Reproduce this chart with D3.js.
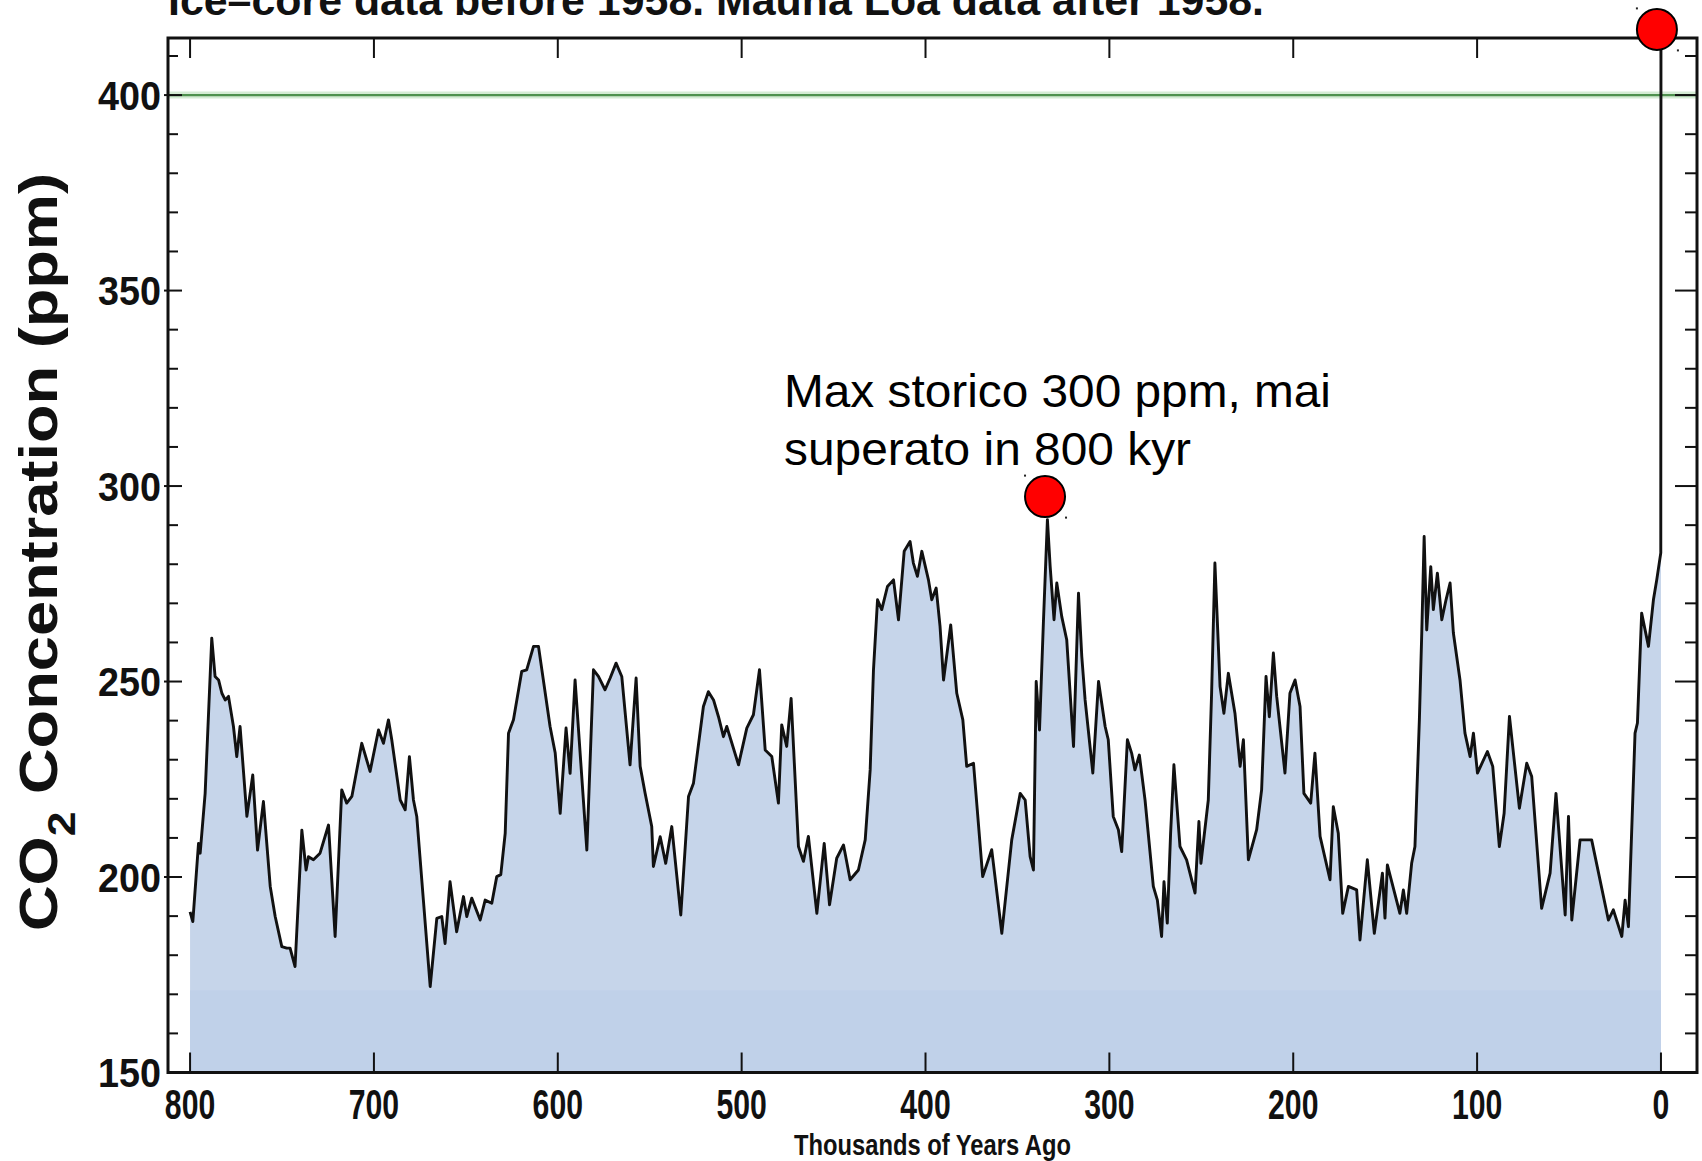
<!DOCTYPE html>
<html>
<head>
<meta charset="utf-8">
<script src="https://cdn.jsdelivr.net/npm/d3@7"></script>
<style>
  html, body { margin: 0; padding: 0; background: #ffffff; }
  svg { display: block; }
</style>
</head>
<body>
<script>
// ---------------- DATA ----------------
const titleText = "Ice–core data before 1958. Mauna Loa data after 1958.";
const xTitle = "Thousands of Years Ago";
const yTitleMain = "CO";
const yTitleSub = "2";
const yTitleRest = " Concentration (ppm)";
const annotationLines = ["Max storico 300 ppm, mai", "superato in 800 kyr"];

const xTicks = [800, 700, 600, 500, 400, 300, 200, 100, 0];
const yTickLabels = [150, 200, 250, 300, 350, 400];
const refLevel = [400];

const markerKyr = [335, 2.2];
const markerPpm = [297.3, 416.8];

// thousands of years ago
const kyr = [
800.0,798.5,795.4,794.5,791.8,788.2,786.4,784.5,782.7,780.9,779.1,776.4,774.6,772.8,769.1,765.9,763.3,760.1,756.4,753.7,
750.1,747.4,745.6,742.9,739.2,736.9,735.6,732.9,729.3,724.7,721.1,717.5,714.8,712.0,706.6,702.1,697.5,694.8,692.1,690.3,
685.7,683.0,680.7,678.5,676.7,673.1,669.4,665.8,663.1,661.3,658.6,655.0,651.3,649.5,646.8,642.2,639.5,635.9,633.2,631.0,
628.6,626.8,624.1,619.6,616.9,613.2,610.5,604.2,601.4,598.7,595.5,593.3,590.6,584.2,580.6,577.9,574.3,571.5,568.3,565.2,
560.7,557.4,555.2,552.5,548.9,548.0,544.3,541.3,538.0,533.1,528.9,526.2,520.8,518.1,515.3,512.6,509.9,508.1,501.7,497.2,
493.6,490.3,487.2,483.6,480.0,478.2,475.5,473.1,469.1,466.4,463.7,459.1,455.1,452.2,448.3,444.6,441.0,436.5,432.8,430.1,
428.3,426.1,423.8,420.7,417.4,414.7,411.6,408.4,406.6,404.4,402.0,398.4,396.6,394.2,392.1,390.2,386.3,383.0,379.7,377.6,
373.9,368.9,364.0,358.5,353.1,348.5,345.8,343.1,341.3,339.8,338.0,335.9,333.7,332.2,330.1,328.6,325.9,323.2,319.5,316.8,
315.0,313.2,309.0,305.9,302.3,300.6,297.9,295.1,293.3,290.2,287.9,286.1,283.7,280.6,276.1,273.9,271.6,270.3,268.5,266.7,
264.9,261.6,258.0,253.4,251.3,250.2,246.2,244.4,242.6,239.8,237.7,235.3,231.7,228.9,227.1,224.4,219.9,217.2,214.8,213.0,
210.8,209.0,204.5,201.8,199.0,196.3,194.2,190.5,188.2,185.4,180.0,178.2,175.5,173.1,170.0,165.5,163.7,159.7,155.9,151.5,
150.1,148.8,142.0,140.1,138.3,135.6,133.8,131.4,130.1,128.8,127.4,125.2,123.8,121.6,119.2,116.9,114.7,112.9,109.3,106.6,
103.8,102.0,99.8,94.4,91.5,87.9,85.3,82.4,77.0,73.0,70.3,64.9,60.3,57.1,52.1,50.3,48.5,44.0,37.7,28.6,
25.9,21.3,19.5,17.7,14.1,12.8,10.5,6.8,4.1,2.3,0.1,0.0
];
// CO2 concentration (ppm)
const co2 = [
191.1,188.6,208.6,206.1,221.4,261.1,251.3,250.4,247.0,245.3,246.2,238.5,230.8,238.5,215.5,226.1,206.9,219.3,197.6,189.9,
182.2,181.8,181.8,177.1,212.0,201.8,205.2,204.4,206.1,213.3,184.8,222.3,218.9,220.6,234.2,227.0,237.6,234.2,240.2,235.1,
219.7,217.2,230.8,219.7,215.5,194.1,172.0,189.4,189.9,183.0,198.8,186.0,195.0,189.9,194.6,189.0,194.1,193.3,200.1,200.6,
211.2,236.8,240.2,252.6,253.0,259.0,259.0,238.5,231.7,216.3,238.1,226.5,250.4,206.9,253.0,251.3,247.9,250.9,254.7,251.3,
228.7,250.9,228.3,221.4,212.9,202.7,210.3,203.5,212.9,190.3,220.6,224.0,243.6,247.4,245.3,241.0,235.9,238.5,228.7,238.1,
241.5,253.0,232.5,230.8,218.9,238.9,233.4,245.7,207.8,204.0,210.4,190.7,208.6,192.9,204.8,208.2,199.3,201.8,209.5,227.4,
253.0,270.9,268.4,274.3,276.0,265.8,283.3,285.8,280.3,276.9,283.3,276.0,270.9,273.9,264.1,250.4,264.5,247.0,240.2,228.3,
229.1,200.1,207.0,185.6,209.5,221.4,219.7,205.2,201.8,250.0,237.6,264.9,291.4,279.4,265.8,275.2,266.6,260.7,233.4,272.6,
256.4,245.3,226.6,250.0,238.5,235.1,215.5,212.1,206.5,235.1,231.7,227.4,231.2,219.7,197.6,194.1,184.8,198.8,188.2,211.2,
228.7,207.8,204.4,195.9,214.2,203.5,219.7,247.0,280.3,248.7,241.9,252.1,241.9,228.3,235.1,204.4,212.1,222.3,251.3,241.0,
257.3,246.2,226.6,247.0,250.4,243.6,221.4,218.9,231.7,210.4,199.3,218.0,211.2,190.7,197.6,196.7,183.9,204.4,185.6,201.0,
189.5,203.1,190.7,196.7,190.7,203.5,207.8,240.2,262.4,287.1,263.2,279.4,268.4,277.7,265.8,270.9,275.2,262.4,250.4,236.8,
230.8,236.8,226.6,232.1,228.3,207.8,216.3,241.1,217.6,229.1,225.7,192.0,201.0,221.4,190.3,215.5,189.0,209.5,209.5,189.0,
191.6,184.8,194.1,187.3,236.8,239.4,267.5,259.0,270.9,276.0,282.9,415.0
];

// ---------------- CHART ----------------
const W = 1702, H = 1161;
const svg = d3.select("body").append("svg")
  .attr("width", W).attr("height", H)
  .attr("viewBox", `0 0 ${W} ${H}`);

svg.append("rect").attr("width", W).attr("height", H).attr("fill", "#ffffff");

const x = d3.scaleLinear().domain([812, -19.6]).range([168, 1697]);
const y = d3.scaleLinear().domain([150, 414.6]).range([1072.5, 38]);

const data = kyr.map((k, i) => ({ k: k, v: co2[i] }));

const wideBold = "'Liberation Sans',Arial,Helvetica,sans-serif";

// area fill
const area = d3.area()
  .x(d => x(d.k))
  .y0(y(150))
  .y1(d => y(d.v));
svg.append("path").datum(data)
  .attr("d", area)
  .attr("fill", "#c6d5ea");

// slightly darker band near the bottom of the fill
svg.append("rect")
  .attr("x", x(800)).attr("width", x(0) - x(800))
  .attr("y", y(171)).attr("height", y(150) - y(171))
  .attr("fill", "#c0d1e9");

// reference line at 400 ppm
svg.selectAll(".refHalo").data(refLevel).enter().append("line")
  .attr("x1", x.range()[0]).attr("x2", x.range()[1])
  .attr("y1", d => y(d)).attr("y2", d => y(d))
  .attr("stroke", "#d5ecd5").attr("stroke-width", 7);
svg.selectAll(".ref").data(refLevel).enter().append("line")
  .attr("x1", x.range()[0]).attr("x2", x.range()[1])
  .attr("y1", d => y(d)).attr("y2", d => y(d))
  .attr("stroke", "#4f914f").attr("stroke-width", 2.4);

// data line
const line = d3.line().x(d => x(d.k)).y(d => y(d.v));
svg.append("path").datum(data)
  .attr("d", line)
  .attr("fill", "none")
  .attr("stroke", "#111")
  .attr("stroke-width", 2.9)
  .attr("stroke-linejoin", "round");

// frame
const [xl, xr] = x.range();
const [yb, yt] = y.range();
svg.append("rect")
  .attr("x", xl).attr("y", yt)
  .attr("width", xr - xl).attr("height", yb - yt)
  .attr("fill", "none").attr("stroke", "#111").attr("stroke-width", 3);

// y ticks (every 10 ppm, longer every 50)
const yMinor = d3.range(160, 415, 10);
const gy = svg.append("g").attr("stroke", "#111").attr("stroke-width", 2);
yMinor.forEach(v => {
  const major = v % 50 === 0;
  gy.append("line").attr("x1", xl - (major ? 4 : 0)).attr("x2", xl + (major ? 14 : 10))
    .attr("y1", y(v)).attr("y2", y(v));
  gy.append("line").attr("x1", xr).attr("x2", xr - (major ? 22 : 12))
    .attr("y1", y(v)).attr("y2", y(v));
});

// x ticks top & bottom
xTicks.forEach(t => {
  gy.append("line").attr("x1", x(t)).attr("x2", x(t)).attr("y1", yb).attr("y2", yb - 20);
  gy.append("line").attr("x1", x(t)).attr("x2", x(t)).attr("y1", yt).attr("y2", yt + 20);
});

// y tick labels
svg.selectAll(".ylab").data(yTickLabels).enter().append("text")
  .attr("x", xl - 7)
  .attr("y", d => y(d) + 14.5)
  .attr("text-anchor", "end")
  .attr("font-family", wideBold)
  .attr("font-weight", "bold")
  .attr("font-size", 40)
  .attr("textLength", d => String(d).length * 21)
  .attr("lengthAdjust", "spacingAndGlyphs")
  .attr("fill", "#111")
  .text(d => d);

// x tick labels
svg.selectAll(".xlab").data(xTicks).enter().append("text")
  .attr("x", d => x(d))
  .attr("y", 1119)
  .attr("text-anchor", "middle")
  .attr("font-family", wideBold)
  .attr("font-weight", "bold")
  .attr("font-size", 42)
  .attr("textLength", d => String(d).length * 16.8)
  .attr("lengthAdjust", "spacingAndGlyphs")
  .attr("fill", "#111")
  .text(d => d);

// x axis title
svg.append("text")
  .attr("x", (xl + xr) / 2).attr("y", 1155)
  .attr("text-anchor", "middle")
  .attr("font-family", wideBold)
  .attr("font-weight", "bold")
  .attr("font-size", 29)
  .attr("textLength", 277)
  .attr("lengthAdjust", "spacingAndGlyphs")
  .attr("fill", "#111")
  .text(xTitle);

// y axis title
const yt1 = svg.append("text")
  .attr("transform", "translate(57,552) rotate(-90) scale(1.17,1)")
  .attr("text-anchor", "middle")
  .attr("font-family", wideBold)
  .attr("font-weight", "bold")
  .attr("font-size", 54)
  .attr("fill", "#111");
yt1.append("tspan").text(yTitleMain);
yt1.append("tspan").attr("dy", 18).attr("font-size", 38).text(yTitleSub);
yt1.append("tspan").attr("dy", -18).text(yTitleRest);

// top title (cut off at the top edge, as in the reference)
svg.append("text")
  .attr("x", 168).attr("y", 15)
  .attr("font-family", wideBold)
  .attr("font-weight", "bold")
  .attr("font-size", 42)
  .attr("textLength", 1096)
  .attr("lengthAdjust", "spacingAndGlyphs")
  .attr("fill", "#111")
  .text(titleText);

// red markers
const markers = markerKyr.map((k, i) => ({ k: k, v: markerPpm[i] }));
svg.selectAll(".mk").data(markers).enter().append("ellipse")
  .attr("cx", d => x(d.k)).attr("cy", d => y(d.v))
  .attr("rx", 20).attr("ry", 20.5)
  .attr("fill", "#ff0000")
  .attr("stroke", "#000").attr("stroke-width", 2);
// tiny selection handles
markers.forEach(d => {
  svg.append("rect").attr("x", x(d.k) - 21).attr("y", y(d.v) - 22).attr("width", 2).attr("height", 2).attr("fill", "#222");
  svg.append("rect").attr("x", x(d.k) + 20).attr("y", y(d.v) + 20).attr("width", 2).attr("height", 2).attr("fill", "#222");
});

// annotation text
svg.selectAll(".ann").data(annotationLines).enter().append("text")
  .attr("x", 784)
  .attr("y", (d, i) => 407 + i * 58)
  .attr("font-family", "'Liberation Sans',Arial,sans-serif")
  .attr("font-size", 46)
  .attr("textLength", (d, i) => i === 0 ? 547 : 407)
  .attr("lengthAdjust", "spacingAndGlyphs")
  .attr("fill", "#000")
  .text(d => d);
</script>
</body>
</html>
